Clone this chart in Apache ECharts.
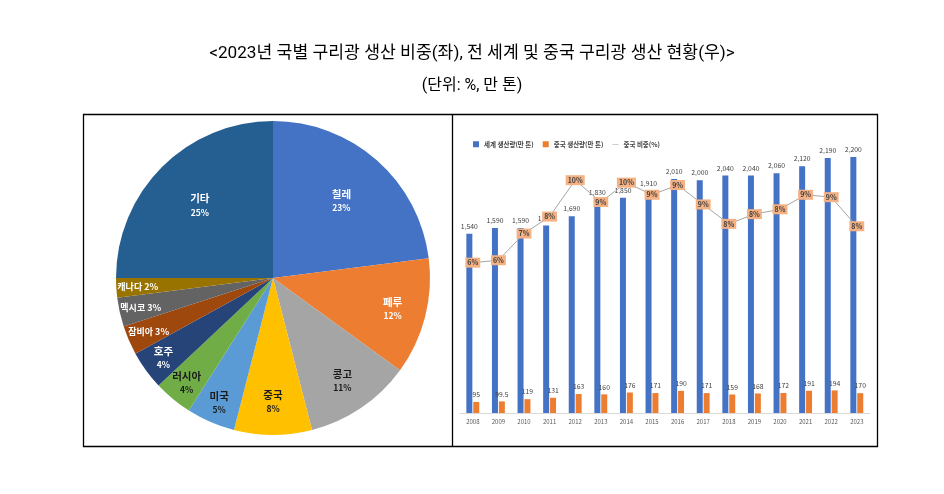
<!DOCTYPE html>
<html>
<head>
<meta charset="utf-8">
<script src="https://cdn.jsdelivr.net/npm/echarts@6/dist/echarts.min.js"></script>
<style>
html,body{margin:0;padding:0;background:#fff;}
#main{width:944px;height:494px;}
</style>
</head>
<body>
<div id="main"></div>
<script>
// ---- data ----
const titleText = '<2023년 국별 구리광 생산 비중(좌), 전 세계 및 중국 구리광 생산 현황(우)>';
const unitText = '(단위: %, 만 톤)';

const countries = ['칠레','페루','콩고','중국','미국','러시아','호주','잠비아','멕시코','캐나다','기타'];
const countryShares = [23,12,11,8,5,4,4,3,3,2,25];

const years = ['2008','2009','2010','2011','2012','2013','2014','2015','2016','2017','2018','2019','2020','2021','2022','2023'];
const worldOutput = [1540,1590,1590,1610,1690,1830,1850,1910,2010,2000,2040,2040,2060,2120,2190,2200];
const chinaOutput = [95,99.5,119,131,163,160,176,171,190,171,159,168,172,191,194,170];
const chinaShare = [6.2,6.3,7.4,8.1,9.6,8.7,9.5,9.0,9.4,8.6,7.8,8.2,8.4,9.0,8.9,7.7];

const seriesNames = ['세계 생산량(만 톤)','중국 생산량(만 톤)','중국 비중(%)'];

// ---- styles ----
const sliceColors = ['#4472C4','#ED7D31','#A5A5A5','#FFC000','#5B9BD5','#70AD47','#264478','#9E480E','#636363','#997300','#255E91'];
const darkLabelSlices = ['콩고','중국','미국','러시아'];
const PIE_CENTER = [273, 278];
const PIE_R = 157;
const KFONT = "'Noto Sans CJK KR', 'Noto Sans', sans-serif";

function pieData(tierFn) {
  return countries.map((n, i) => {
    const v = countryShares[i];
    const dark = darkLabelSlices.indexOf(n) >= 0;
    const c = dark ? '#1a1a1a' : '#ffffff';
    return {
      name: n, value: v,
      label: {
        show: tierFn(v),
        formatter: v <= 3 ? '{s|' + n + ' ' + v + '%}' : '{n|' + n + '}\n{p|' + v + '%}',
        rich: {
          n: {fontSize: 10.5, fontWeight: 'bold', color: c, fontFamily: KFONT, lineHeight: 15},
          p: {fontSize: 8.5, fontWeight: 'bold', color: c, fontFamily: KFONT, lineHeight: 13},
          s: {fontSize: 9, fontWeight: 'bold', color: c, fontFamily: KFONT}
        }
      }
    };
  });
}

function labelPie(inner, tierFn) {
  return {
    type: 'pie', silent: true, center: PIE_CENTER, radius: [inner, PIE_R],
    startAngle: 90, clockwise: true, animation: false,
    itemStyle: {color: 'rgba(0,0,0,0)'},
    label: {position: 'inside'},
    labelLine: {show: false},
    emphasis: {disabled: true},
    data: pieData(tierFn)
  };
}

const chart = echarts.init(document.getElementById('main'), null, {renderer: 'canvas'});
chart.setOption({
  animation: false,
  backgroundColor: '#ffffff',
  title: [
    {text: titleText, left: 'center', top: 40,
     textStyle: {fontFamily: "Roboto, 'Noto Sans CJK KR', sans-serif", fontSize: 17.2, fontWeight: 'normal', color: '#000'}},
    {text: unitText, left: 'center', top: 73,
     textStyle: {fontFamily: "Roboto, 'Noto Sans CJK KR', sans-serif", fontSize: 16, fontWeight: 'normal', color: '#000'}}
  ],
  graphic: [
    {type: 'rect', shape: {x: 83.5, y: 114.5, width: 794, height: 332}, style: {fill: 'none', stroke: '#000', lineWidth: 1.3}, silent: true},
    {type: 'line', shape: {x1: 452.5, y1: 114.5, x2: 452.5, y2: 446.5}, style: {stroke: '#000', lineWidth: 1.3}, silent: true}
  ],
  legend: {
    left: 468, top: 136, itemWidth: 6, itemHeight: 6, itemGap: 9,
    textStyle: {fontSize: 6.5, color: '#404040', fontFamily: KFONT, fontWeight: 'bold'},
    data: [
      {name: seriesNames[0], icon: 'rect'},
      {name: seriesNames[1], icon: 'rect'},
      {name: seriesNames[2], icon: 'path://M0,4.5 L10,4.5 L10,5.5 L0,5.5 Z'}
    ]
  },
  grid: {left: 460, top: 122, width: 409.6, height: 291},
  xAxis: {
    type: 'category', data: years,
    axisLine: {lineStyle: {color: '#D9D9D9'}},
    axisTick: {show: false},
    axisLabel: {fontSize: 6, color: '#595959', margin: 6, fontFamily: KFONT}
  },
  yAxis: [
    {type: 'value', min: 0, max: 2500, show: false, splitLine: {show: false}},
    {type: 'value', min: 0, max: 12, show: false, splitLine: {show: false}}
  ],
  series: [
    {
      type: 'pie', center: PIE_CENTER, radius: [0, PIE_R], startAngle: 90, clockwise: true,
      silent: true, label: {show: false}, labelLine: {show: false},
      data: countries.map((n, i) => ({name: n, value: countryShares[i], itemStyle: {color: sliceColors[i]}}))
    },
    labelPie(44, v => v >= 20),
    labelPie(84, v => v >= 8 && v < 20),
    labelPie(108, v => v < 8),
    {
      name: seriesNames[0], type: 'bar', data: worldOutput, barWidth: 6, barGap: '15%',
      itemStyle: {color: '#4472C4'},
      label: {show: true, position: 'top', distance: 4, fontSize: 6.8, color: '#404040', fontFamily: KFONT,
              formatter: p => p.value.toLocaleString('en-US')}
    },
    {
      name: seriesNames[1], type: 'bar', data: chinaOutput, barWidth: 6,
      itemStyle: {color: '#ED7D31'},
      label: {show: true, position: 'top', distance: 4, fontSize: 6.8, color: '#404040', fontFamily: KFONT}
    },
    {
      name: seriesNames[2], type: 'line', yAxisIndex: 1, data: chinaShare,
      symbol: 'circle', symbolSize: 1, z: 5,
      lineStyle: {color: '#A5A5A5', width: 1},
      itemStyle: {color: '#A5A5A5'},
      label: {show: true, position: 'inside', fontSize: 7, fontWeight: 'bold', color: '#404040',
              backgroundColor: '#F4B183', padding: [2, 2, 1, 2], fontFamily: KFONT,
              formatter: p => Math.round(p.value) + '%'}
    }
  ]
});
</script>
</body>
</html>
